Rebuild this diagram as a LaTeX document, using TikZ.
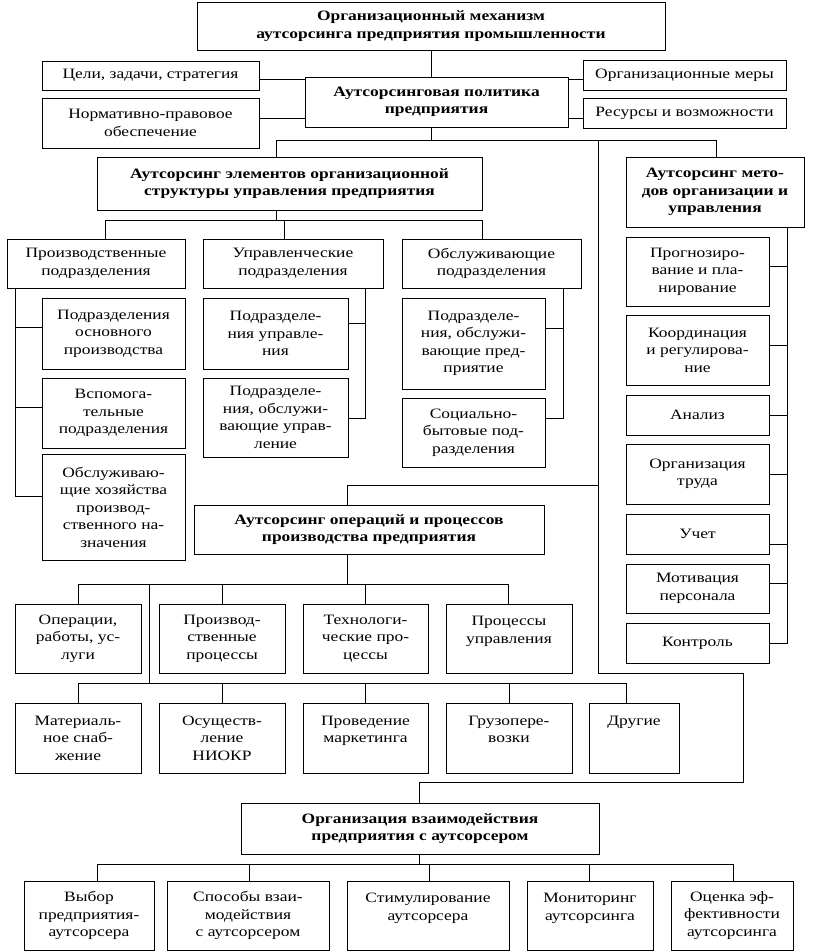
\documentclass[tikz,border=0pt]{standalone}
\usepackage{fontspec}
\setmainfont{Liberation Serif}[FakeStretch=1.22]
\newcommand\bx[7][box]{\node[#1, minimum width={#5-#3}, minimum height={#6-#4}] (#2) at ({(#3+#5)/2},{(#4+#6)/2}) {#7};}
\begin{document}
\begin{tikzpicture}[x=1pt,y=-1pt, line width=0.9pt,
  box/.style={draw, align=center, inner sep=0pt, font=\fontsize{14.3}{17.5}\selectfont},
  hbox/.style={box, font=\fontsize{14.3}{17.5}\selectfont\bfseries}]
\useasboundingbox[fill=white] (0,0) rectangle (812,952);
% top level
\bx[hbox]{top}{197}{2}{665}{50}{Организационный механизм\\аутсорсинга предприятия промышленности}
\bx{goals}{42}{61}{259}{90}{Цели, задачи, стратегия}
\bx{norm}{42}{98}{259}{148}{Нормативно-правовое\\обеспечение}
\bx[hbox]{policy}{305}{77}{568}{127}{Аутсорсинговая политика\\предприятия}
\bx{orgm}{583}{60}{786}{90}{Организационные меры}
\bx{res}{583}{98}{786}{128}{Ресурсы и возможности}
% elements
\bx[hbox]{elem}{97}{157}{482}{210}{Аутсорсинг элементов организационной\\структуры  управления предприятия}
\bx[hbox]{meth}{626}{157}{804}{227}{Аутсорсинг мето-\\дов организации и\\управления}
\bx{prod}{7}{239}{185}{288}{Производственные\\подразделения}
\bx{upr}{203}{239}{383}{288}{Управленческие\\подразделения}
\bx{obs}{402}{239}{581}{288}{Обслуживающие\\подразделения}
\bx{p1}{42}{298}{185}{369}{Подразделения\\основного\\производства}
\bx{p2}{42}{378}{185}{448}{Вспомога-\\тельные\\подразделения}
\bx{p3}{42}{454}{185}{560}{Обслуживаю-\\щие хозяйства\\производ-\\ственного на-\\значения}
\bx{u1}{203}{298}{348}{369}{Подразделе-\\ния управле-\\ния}
\bx{u2}{203}{378}{348}{457}{Подразделе-\\ния, обслужи-\\вающие управ-\\ление}
\bx{o1}{402}{298}{545}{389}{Подразделе-\\ния, обслужи-\\вающие пред-\\приятие}
\bx{o2}{402}{398}{545}{467}{Социально-\\бытовые под-\\разделения}
% methods
\bx{m1}{626}{237}{769}{306}{Прогнозиро-\\вание и пла-\\нирование}
\bx{m2}{626}{315}{769}{385}{Координация\\и регулирова-\\ние}
\bx{m3}{626}{395}{769}{435}{Анализ}
\bx{m4}{626}{444}{769}{504}{Организация\\труда}
\bx{m5}{626}{514}{769}{554}{Учет}
\bx{m6}{626}{564}{769}{613}{Мотивация\\персонала}
\bx{m7}{626}{623}{769}{663}{Контроль}
% operations
\bx[hbox]{ops}{194}{505}{544}{554}{Аутсорсинг операций и процессов\\производства предприятия}
\bx{r1}{15}{604}{141}{673}{Операции,\\работы, ус-\\луги}
\bx{r2}{159}{604}{285}{673}{Производ-\\ственные\\процессы}
\bx{r3}{303}{604}{428}{673}{Технологи-\\ческие про-\\цессы}
\bx{r4}{446}{604}{572}{673}{Процессы\\управления\\~}
\bx{s1}{15}{703}{141}{773}{Материаль-\\ное снаб-\\жение}
\bx{s2}{159}{703}{285}{773}{Осуществ-\\ление\\НИОКР}
\bx{s3}{303}{703}{428}{773}{Проведение\\маркетинга\\~}
\bx{s4}{446}{703}{572}{773}{Грузопере-\\возки\\~}
\bx{s5}{589}{703}{679}{773}{Другие\\~\\~}
% interaction
\bx[hbox]{inter}{241}{803}{599}{854}{Организация взаимодействия\\предприятия с аутсорсером}
\bx{b1}{24}{881}{154}{950}{Выбор\\предприятия-\\аутсорсера}
\bx{b2}{167}{881}{329}{950}{Способы взаи-\\модействия\\с аутсорсером}
\bx{b3}{347}{881}{509}{950}{Стимулирование\\аутсорсера\\~}
\bx{b4}{527}{881}{653}{950}{Мониторинг\\аутсорсинга\\~}
\bx{b5}{671}{881}{793}{950}{Оценка эф-\\фективности\\аутсорсинга}
% connectors top
\draw (top.south) -- (top.south |- policy.north);
\draw (goals.east |- 0,79) -- (policy.west |- 0,79);
\draw (norm.east |- 0,118) -- (policy.west |- 0,118);
\draw (orgm.west |- 0,79) -- (policy.east |- 0,79);
\draw (res.west |- 0,118) -- (policy.east |- 0,118);
\coordinate (j1) at (431,140);
\coordinate (jL) at (276,140);
\coordinate (jR) at (716,140);
\draw (top.south |- policy.south) -- (j1);
\draw (jL |- elem.north) -- (jL) -- (jR) -- (jR |- meth.north);
% long right trunk
\coordinate (t0) at (598,140);
\coordinate (t1) at (598,673);
\coordinate (t2) at (743,673);
\coordinate (t3) at (743,782);
\coordinate (t4) at (419,782);
\draw (t0) -- (t1) -- (t2) -- (t3) -- (t4) -- (t4 |- inter.north);
\coordinate (t5) at (598,485);
\coordinate (t6) at (347,485);
\draw (t5) -- (t6) -- (t6 |- ops.north);
% elements to subs
\coordinate (e1) at (276,220);
\coordinate (eL) at (105,220);
\coordinate (eM) at (284,220);
\coordinate (eR) at (482,220);
\draw (e1 |- elem.south) -- (e1);
\draw (eL |- prod.north) -- (eL) -- (eR) -- (eR |- obs.north);
\draw (eM) -- (eM |- upr.north);
% production bracket
\coordinate (pb) at (15,496);
\draw (pb |- prod.south) -- (pb) -- (pb -| p3.west);
\draw (p1.west |- 0,327) -- (pb |- 0,327);
\draw (p2.west |- 0,407) -- (pb |- 0,407);
% management bracket
\coordinate (ub) at (365,418);
\draw (ub |- upr.south) -- (ub) -- (ub -| u2.east);
\draw (u1.east |- 0,323) -- (ub |- 0,323);
% service bracket
\coordinate (ob) at (563,418);
\draw (ob |- obs.south) -- (ob) -- (ob -| o2.east);
\draw (o1.east |- 0,328) -- (ob |- 0,328);
% methods bracket
\coordinate (mb) at (787,643);
\draw (mb |- meth.south) -- (mb) -- (mb -| m7.east);
\draw (m1.east |- 0,266) -- (mb |- 0,266);
\draw (m2.east |- 0,345) -- (mb |- 0,345);
\draw (m3.east |- 0,415) -- (mb |- 0,415);
\draw (m4.east |- 0,474) -- (mb |- 0,474);
\draw (m5.east |- 0,544) -- (mb |- 0,544);
\draw (m6.east |- 0,583) -- (mb |- 0,583);
% operations rows
\coordinate (k1) at (347,584);
\coordinate (kL) at (78,584);
\coordinate (kR) at (508,584);
\draw (ops.south -| k1) -- (k1);
\draw (kL |- r1.north) -- (kL) -- (kR) -- (kR |- r4.north);
\draw (r2.north) -- (r2.north |- k1);
\draw (r3.north) -- (r3.north |- k1);
\coordinate (k2) at (149,584);
\coordinate (k3) at (149,683);
\coordinate (kL2) at (78,683);
\coordinate (kR2) at (626,683);
\draw (k2) -- (k3);
\draw (kL2 |- s1.north) -- (kL2) -- (kR2) -- (kR2 |- s5.north);
\draw (s2.north) -- (s2.north |- k3);
\draw (s3.north) -- (s3.north |- k3);
\draw (s4.north) -- (s4.north |- k3);
% interaction
\coordinate (i1) at (419,864);
\coordinate (iL) at (97,864);
\coordinate (iR) at (733,864);
\draw (inter.south -| i1) -- (i1);
\draw (iL |- b1.north) -- (iL) -- (iR) -- (iR |- b5.north);
\coordinate (i2) at (249,864);
\coordinate (i3) at (429,864);
\coordinate (i4) at (589,864);
\draw (i2) -- (i2 |- b2.north);
\draw (i3) -- (i3 |- b3.north);
\draw (i4) -- (i4 |- b4.north);
\end{tikzpicture}
\end{document}
